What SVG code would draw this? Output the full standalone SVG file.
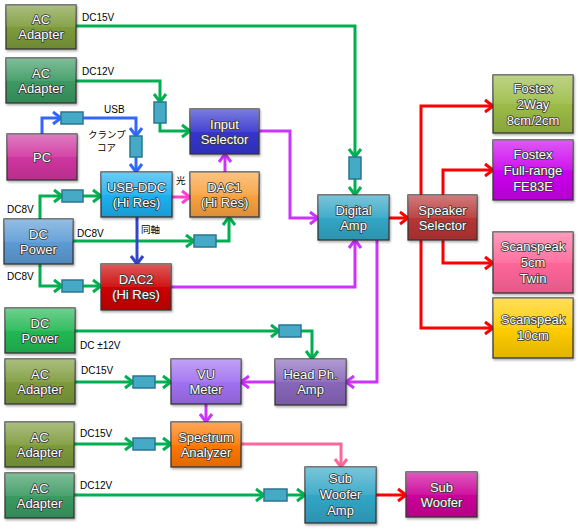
<svg xmlns="http://www.w3.org/2000/svg" width="580" height="530" viewBox="0 0 580 530">
<style>
.box{stroke:#3a3a3a;stroke-width:1.3;filter:url(#sh)}
.gl{fill:url(#gloss);stroke:none}
.nt{font-family:"Liberation Sans","Noto Sans CJK JP",sans-serif;font-size:13px;fill:#fff;stroke:#3a3a3a;stroke-width:1.7;stroke-linejoin:round;paint-order:stroke;text-anchor:middle}
.lb{font-family:"Liberation Sans","Noto Sans CJK JP",sans-serif;font-size:10px;fill:#000}
.jp{font-size:9.5px}
.c{fill:none;stroke-width:3;stroke-linejoin:miter}
.g{stroke:#00b050;marker-end:url(#ag)}
.b{stroke:#3366ff;marker-end:url(#ab)}
.n{stroke:#3344cc;marker-end:url(#an)}
.pm{stroke:#ff3fd0;marker-end:url(#apm)}
.m{stroke:#cc33ff;marker-end:url(#am)}
.p{stroke:#ff6699;marker-end:url(#ap)}
.r{stroke:#ff0000;marker-end:url(#ar)}
.f{fill:#45aac5;stroke:#2a7590;stroke-width:1.5}
</style>
<defs>
<linearGradient id="gloss" x1="0" y1="0" x2="0" y2="1">
<stop offset="0" stop-color="#fff" stop-opacity="0.35"/>
<stop offset="0.5" stop-color="#fff" stop-opacity="0.08"/>
<stop offset="0.52" stop-color="#000" stop-opacity="0"/>
<stop offset="1" stop-color="#000" stop-opacity="0.12"/>
</linearGradient>
<filter id="sh" x="-10%" y="-10%" width="125%" height="130%">
<feDropShadow dx="1" dy="1.5" stdDeviation="1" flood-color="#000" flood-opacity="0.35"/>
</filter>
<marker id="ag" markerWidth="14" markerHeight="16" refX="11" refY="8" orient="auto" markerUnits="userSpaceOnUse" overflow="visible"><path d="M3,2 L11,8 L3,14" fill="none" stroke="#00b050" stroke-width="3"/></marker>
<marker id="ab" markerWidth="14" markerHeight="16" refX="11" refY="8" orient="auto" markerUnits="userSpaceOnUse" overflow="visible"><path d="M3,2 L11,8 L3,14" fill="none" stroke="#3366ff" stroke-width="3"/></marker>
<marker id="an" markerWidth="14" markerHeight="16" refX="11" refY="8" orient="auto" markerUnits="userSpaceOnUse" overflow="visible"><path d="M3,2 L11,8 L3,14" fill="none" stroke="#3344cc" stroke-width="3"/></marker>
<marker id="apm" markerWidth="14" markerHeight="16" refX="11" refY="8" orient="auto" markerUnits="userSpaceOnUse" overflow="visible"><path d="M3,2 L11,8 L3,14" fill="none" stroke="#ff3fd0" stroke-width="3"/></marker>
<marker id="am" markerWidth="14" markerHeight="16" refX="11" refY="8" orient="auto" markerUnits="userSpaceOnUse" overflow="visible"><path d="M3,2 L11,8 L3,14" fill="none" stroke="#cc33ff" stroke-width="3"/></marker>
<marker id="ap" markerWidth="14" markerHeight="16" refX="11" refY="8" orient="auto" markerUnits="userSpaceOnUse" overflow="visible"><path d="M3,2 L11,8 L3,14" fill="none" stroke="#ff6699" stroke-width="3"/></marker>
<marker id="ar" markerWidth="14" markerHeight="16" refX="11" refY="8" orient="auto" markerUnits="userSpaceOnUse" overflow="visible"><path d="M3,2 L11,8 L3,14" fill="none" stroke="#ff0000" stroke-width="3"/></marker>
</defs>
<rect width="580" height="530" fill="#fff"/>

<g id="connectors">
<path class="c g" d="M76,26 H355 V157"/>
<path class="c g" d="M355,179 V195"/>
<path class="c g" d="M76,81 H160 V102"/>
<path class="c g" d="M160,123 V131 H190"/>
<path class="c g" d="M40,219 V196 H62"/>
<path class="c g" d="M83,196 H101"/>
<path class="c g" d="M73,241 H194"/>
<path class="c g" d="M216,241 H229 V217"/>
<path class="c g" d="M40,264 V286 H62"/>
<path class="c g" d="M83,286 H101"/>
<path class="c g" d="M75,331 H279"/>
<path class="c g" d="M301,331 H312 V359"/>
<path class="c g" d="M75,382 H133"/>
<path class="c g" d="M155,382 H171"/>
<path class="c g" d="M74,444 H133"/>
<path class="c g" d="M155,444 H171"/>
<path class="c g" d="M74,495 H264"/>
<path class="c g" d="M287,495 H305"/>
<path class="c b" d="M42,134 V118 H61"/>
<path class="c b" d="M83,118 H136 V136"/>
<path class="c b" d="M136,157 V172"/>
<path class="c n" d="M137,217 V264"/>
<path class="c pm" d="M172,197 H190"/>
<path class="c m" d="M225,172 V154"/>
<path class="c m" d="M259,131 H290 V218 H318"/>
<path class="c m" d="M171,287 H355 V240"/>
<path class="c m" d="M377,240 V382 H346"/>
<path class="c m" d="M275,382 H241"/>
<path class="c m" d="M206,404 V422"/>
<path class="c p" d="M241,444 H341 V467"/>
<path class="c r" d="M376,495 H406"/>
<path class="c r" d="M389,218 H408"/>
<path class="c r" d="M421,195 V106 H493"/>
<path class="c r" d="M443,195 V170 H493"/>
<path class="c r" d="M443,240 V263 H493"/>
<path class="c r" d="M421,240 V328 H493"/>
</g>

<g id="filters">
<rect class="f" x="349" y="157" width="12" height="22"/>
<rect class="f" x="154" y="102" width="12" height="21"/>
<rect class="f" x="61" y="112" width="22" height="12"/>
<rect class="f" x="130" y="136" width="12" height="21"/>
<rect class="f" x="62" y="190" width="21" height="12"/>
<rect class="f" x="194" y="235" width="22" height="12"/>
<rect class="f" x="62" y="280" width="21" height="12"/>
<rect class="f" x="279" y="325" width="22" height="12"/>
<rect class="f" x="133" y="376" width="22" height="12"/>
<rect class="f" x="133" y="438" width="22" height="12"/>
<rect class="f" x="264" y="489" width="23" height="12"/>
</g>

<g id="labels">
<text class="lb" x="82" y="21">DC15V</text>
<text class="lb" x="82" y="75">DC12V</text>
<text class="lb" x="104" y="113">USB</text>
<text class="lb jp" x="88" y="138">クランプ</text>
<text class="lb jp" x="97" y="151">コア</text>
<text class="lb" x="7" y="213">DC8V</text>
<text class="lb" x="77" y="237">DC8V</text>
<text class="lb" x="7" y="280">DC8V</text>
<text class="lb jp" x="141" y="233">同軸</text>
<text class="lb jp" x="176" y="184">光</text>
<text class="lb" x="80" y="349">DC ±12V</text>
<text class="lb" x="81" y="374">DC15V</text>
<text class="lb" x="80" y="437">DC15V</text>
<text class="lb" x="80" y="489">DC12V</text>
</g>

<g id="ac1"><rect class="box" x="6" y="5" width="70" height="44" fill="#7d9b3b"/><rect class="gl" x="6" y="5" width="70" height="44"/><text class="nt" x="41" y="24">AC<tspan x="41" y="39">Adapter</tspan></text></g>
<g id="ac2"><rect class="box" x="6" y="58" width="70" height="45" fill="#3a9a62"/><rect class="gl" x="6" y="58" width="70" height="45"/><text class="nt" x="41" y="78">AC<tspan x="41" y="93">Adapter</tspan></text></g>
<g id="pc"><rect class="box" x="7" y="134" width="70" height="46" fill="#cf359f"/><rect class="gl" x="7" y="134" width="70" height="46"/><text class="nt" x="42" y="162">PC</text></g>
<g id="usbddc"><rect class="box" x="101" y="172" width="71" height="45" fill="#1ab0f0"/><rect class="gl" x="101" y="172" width="71" height="45"/><text class="nt" x="136.5" y="192">USB-DDC<tspan x="136.5" y="207">(Hi Res)</tspan></text></g>
<g id="dac1"><rect class="box" x="190" y="172" width="69" height="45" fill="#f9a23f"/><rect class="gl" x="190" y="172" width="69" height="45"/><text class="nt" x="224.5" y="192">DAC1<tspan x="224.5" y="207">(Hi Res)</tspan></text></g>
<g id="inputsel"><rect class="box" x="190" y="109" width="69" height="45" fill="#3535cf"/><rect class="gl" x="190" y="109" width="69" height="45"/><text class="nt" x="224.5" y="129">Input<tspan x="224.5" y="144">Selector</tspan></text></g>
<g id="dcpower1"><rect class="box" x="4" y="219" width="69" height="45" fill="#5b9bd5"/><rect class="gl" x="4" y="219" width="69" height="45"/><text class="nt" x="38.5" y="239">DC<tspan x="38.5" y="254">Power</tspan></text></g>
<g id="dac2"><rect class="box" x="101" y="264" width="70" height="46" fill="#cc0000"/><rect class="gl" x="101" y="264" width="70" height="46"/><text class="nt" x="136" y="284">DAC2<tspan x="136" y="299">(Hi Res)</tspan></text></g>
<g id="digitalamp"><rect class="box" x="318" y="195" width="71" height="45" fill="#31a6c6"/><rect class="gl" x="318" y="195" width="71" height="45"/><text class="nt" x="353.5" y="215">Digital<tspan x="353.5" y="230">Amp</tspan></text></g>
<g id="speakersel"><rect class="box" x="408" y="195" width="69" height="45" fill="#b83535"/><rect class="gl" x="408" y="195" width="69" height="45"/><text class="nt" x="442.5" y="215">Speaker<tspan x="442.5" y="230">Selector</tspan></text></g>
<g id="fostex2way"><rect class="box" x="493" y="75" width="80" height="58" fill="#9bbb45"/><rect class="gl" x="493" y="75" width="80" height="58"/><text class="nt" x="533" y="93">Fostex<tspan x="533" y="109">2Way</tspan><tspan x="533" y="125">8cm/2cm</tspan></text></g>
<g id="fostexfull"><rect class="box" x="493" y="140" width="80" height="60" fill="#cc00ee"/><rect class="gl" x="493" y="140" width="80" height="60"/><text class="nt" x="533" y="159">Fostex<tspan x="533" y="175">Full-range</tspan><tspan x="533" y="191">FE83E</tspan></text></g>
<g id="scan5"><rect class="box" x="493" y="232" width="80" height="61" fill="#ff6699"/><rect class="gl" x="493" y="232" width="80" height="61"/><text class="nt" x="533" y="251">Scanspeak<tspan x="533" y="267">5cm</tspan><tspan x="533" y="283">Twin</tspan></text></g>
<g id="scan10"><rect class="box" x="493" y="298" width="80" height="60" fill="#ffcc00"/><rect class="gl" x="493" y="298" width="80" height="60"/><text class="nt" x="533" y="324">Scanspeak<tspan x="533" y="340">10cm</tspan></text></g>
<g id="dcpower2"><rect class="box" x="5" y="308" width="70" height="45" fill="#20b852"/><rect class="gl" x="5" y="308" width="70" height="45"/><text class="nt" x="40" y="328">DC<tspan x="40" y="343">Power</tspan></text></g>
<g id="ac3"><rect class="box" x="5" y="359" width="70" height="45" fill="#7d9b3b"/><rect class="gl" x="5" y="359" width="70" height="45"/><text class="nt" x="40" y="379">AC<tspan x="40" y="394">Adapter</tspan></text></g>
<g id="vumeter"><rect class="box" x="171" y="359" width="70" height="45" fill="#a070f0"/><rect class="gl" x="171" y="359" width="70" height="45"/><text class="nt" x="206" y="379">VU<tspan x="206" y="394">Meter</tspan></text></g>
<g id="headph"><rect class="box" x="275" y="359" width="71" height="46" fill="#8866bb"/><rect class="gl" x="275" y="359" width="71" height="46"/><text class="nt" x="310.5" y="379">Head Ph.<tspan x="310.5" y="394">Amp</tspan></text></g>
<g id="ac4"><rect class="box" x="5" y="422" width="69" height="45" fill="#7d9b3b"/><rect class="gl" x="5" y="422" width="69" height="45"/><text class="nt" x="39.5" y="442">AC<tspan x="39.5" y="457">Adapter</tspan></text></g>
<g id="spectrum"><rect class="box" x="171" y="422" width="70" height="45" fill="#ff7700"/><rect class="gl" x="171" y="422" width="70" height="45"/><text class="nt" x="206" y="442">Spectrum<tspan x="206" y="457">Analyzer</tspan></text></g>
<g id="ac5"><rect class="box" x="5" y="473" width="69" height="45" fill="#3a9a62"/><rect class="gl" x="5" y="473" width="69" height="45"/><text class="nt" x="39.5" y="493">AC<tspan x="39.5" y="508">Adapter</tspan></text></g>
<g id="subamp"><rect class="box" x="305" y="467" width="71" height="56" fill="#31a6c6"/><rect class="gl" x="305" y="467" width="71" height="56"/><text class="nt" x="340.5" y="483">Sub<tspan x="340.5" y="499">Woofer</tspan><tspan x="340.5" y="515">Amp</tspan></text></g>
<g id="subwoofer"><rect class="box" x="406" y="472" width="71" height="45" fill="#cc0099"/><rect class="gl" x="406" y="472" width="71" height="45"/><text class="nt" x="441.5" y="492">Sub<tspan x="441.5" y="507">Woofer</tspan></text></g>
</svg>
